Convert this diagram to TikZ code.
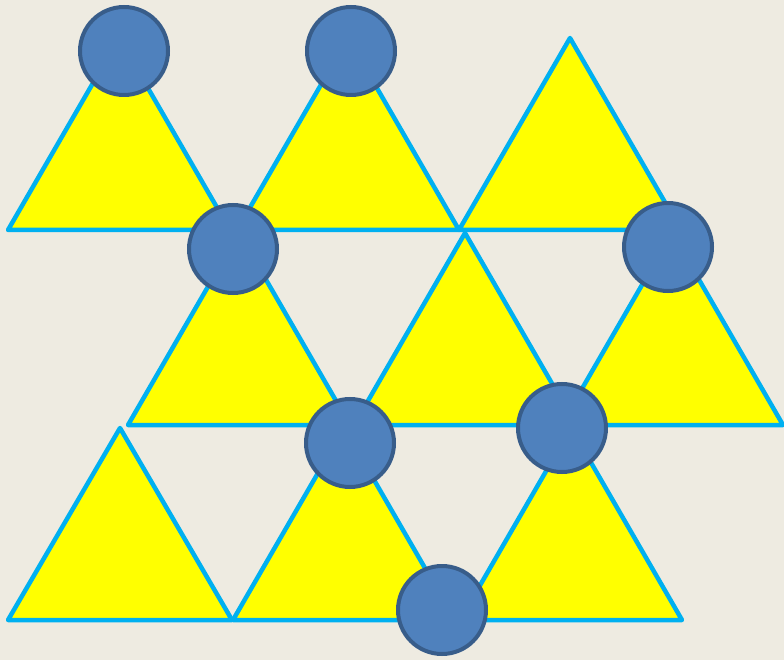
\documentclass[tikz,border=0pt]{standalone}
\definecolor{bg}{HTML}{EEEBE1}
\definecolor{triY}{HTML}{FFFF00}
\definecolor{triB}{HTML}{00B0F0}
\definecolor{ballF}{HTML}{4F81BD}
\definecolor{ballD}{HTML}{385D8A}
\begin{document}
\begin{tikzpicture}[x=1pt,y=-1pt,
  tri/.style={fill=triY,draw=triB,line width=4.5pt,line join=round,line cap=round},
  ball/.style={circle,fill=ballF,draw=ballD,line width=4pt,minimum size=88pt,inner sep=0pt}]
\fill[bg] (0,0) rectangle (784,660);
\useasboundingbox (0,0) rectangle (784,660);
% row 1
\draw[tri] (8,230) -- (119,38) -- (230,230) -- cycle;
\draw[tri] (237,230) -- (348,38) -- (459,230) -- cycle;
\draw[tri] (459,230) -- (570,38) -- (681,230) -- cycle;
% row 2
\draw[tri] (128,425) -- (239,233) -- (350,425) -- cycle;
\draw[tri] (354,425) -- (465,233) -- (576,425) -- cycle;
\draw[tri] (561,425) -- (672,233) -- (783,425) -- cycle;
% row 3
\draw[tri] (8,620) -- (120,428) -- (232,620) -- cycle;
\draw[tri] (233,620) -- (344,428) -- (455,620) -- cycle;
\draw[tri] (460,620) -- (571,428) -- (682,620) -- cycle;
% balls
\node[ball] (b1) at (124,51) {};
\node[ball] (b2) at (351,51) {};
\node[ball] (b3) at (233,249) {};
\node[ball] (b4) at (668,247) {};
\node[ball] (b5) at (350,443) {};
\node[ball] (b6) at (562,428) {};
\node[ball] (b7) at (442,610) {};
\end{tikzpicture}
\end{document}
